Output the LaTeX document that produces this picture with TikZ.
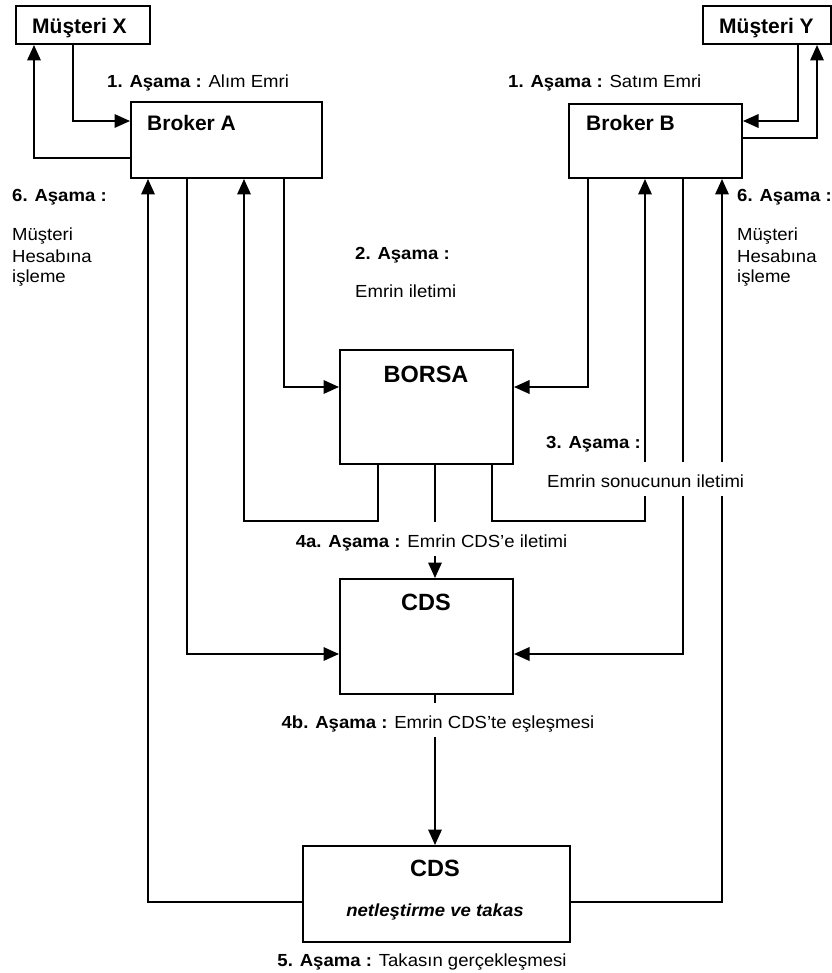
\documentclass[tikz,border=0pt]{standalone}
\usepackage{fontspec}
\setmainfont{Liberation Sans}
\newfontfamily\lblfont{Liberation Sans}[FakeStretch=1.06]
\usetikzlibrary{arrows.meta}

\begin{document}
\begin{tikzpicture}[x=1pt,y=-1pt,
  box/.style={draw,line width=2pt,inner sep=0pt,anchor=north west},
  conn/.style={line width=1.8pt,-{Triangle[length=15.5pt,width=13.5pt]}},
  title/.style={font=\bfseries\fontsize{21}{25}\selectfont,inner sep=0pt,anchor=base west},
  bigtitle/.style={font=\bfseries\fontsize{23.5}{28}\selectfont,inner sep=0pt,anchor=base},
  lbl/.style={font=\lblfont\fontsize{17.5}{21}\selectfont,inner sep=0pt,anchor=base west},
  gaplbl/.style={lbl,fill=white,inner xsep=1pt,inner ysep=0pt,text height=25pt,text depth=9pt}
]
\useasboundingbox (0,0) rectangle (831,973);

% boxes
\node[box,minimum width=134pt,minimum height=38pt] (mx) at (15,5) {};
\node[title] (mxT) at (32,34) {Müşteri X};
\node[box,minimum width=128pt,minimum height=38pt] (my) at (702,5) {};
\node[title] (myT) at (719,34) {Müşteri Y};
\node[box,minimum width=191pt,minimum height=76pt] (ba) at (130,101) {};
\node[title] (baT) at (147,131) {Broker A};
\node[box,minimum width=173pt,minimum height=74pt] (bb) at (568,103) {};
\node[title] (bbT) at (586,131) {Broker B};
\node[box,minimum width=173pt,minimum height=114pt] (borsa) at (339,349) {};
\node[bigtitle] (borsaT) at (426,382) {BORSA};
\node[box,minimum width=173pt,minimum height=115pt] (cds1) at (339,578) {};
\node[bigtitle] (cds1T) at (426,610) {CDS};
\node[box,minimum width=267pt,minimum height=96pt] (cds2) at (302,845) {};
\node[bigtitle] (cds2T) at (435,876) {CDS};
\node[lbl,anchor=base,font=\lblfont\bfseries\itshape\fontsize{17.5}{21}\selectfont] (cds2S) at (435,916) {netleştirme ve takas};

% stage 1: customer orders and stage 6 back to customers
\draw[conn] (mx.south -| 73,0) |- (ba.west |- 0,121);
\draw[conn] (ba.west |- 0,158) -| (mx.south -| 34,0);
\draw[conn] (my.south -| 798,0) |- (bb.east |- 0,121);
\draw[conn] (bb.east |- 0,138) -| (my.south -| 817,0);

% stage 2: orders to the exchange
\draw[conn] (ba.south -| 284,0) |- (borsa.west |- 0,387);
\draw[conn] (bb.south -| 588,0) |- (borsa.east |- 0,387);

% stage 4a: exchange to CDS
\draw[conn] (borsa.south -| 435,0) -- (cds1.north -| 435,0);
\node[gaplbl,anchor=base] (s4a) at (431.5,547) {\textbf{4a. Aşama :} Emrin CDS’e iletimi};

% stage 3: results back to brokers
\draw[conn] (borsa.south -| 378,0) -- (378,521) -| (ba.south -| 244,0);
\draw[conn] (borsa.south -| 492,0) -- (492,521) -| (bb.south -| 645,0);

% brokers to CDS
\draw[conn] (ba.south -| 187,0) |- (cds1.west |- 0,654);
\draw[conn] (bb.south -| 683,0) |- (cds1.east |- 0,654);

% stage 5/6: settlement back to brokers
\draw[conn] (cds2.west |- 0,902) -| (ba.south -| 148,0);
\draw[conn] (cds2.east |- 0,902) -| (bb.south -| 722,0);

% stage 4b: matching
\draw[conn] (cds1.south -| 435,0) -- (cds2.north -| 435,0);
\node[gaplbl,anchor=base] (s4b) at (438,728) {\textbf{4b. Aşama :} Emrin CDS’te eşleşmesi};

% stage labels
\node[lbl] (s1a) at (107,88) {\textbf{1. Aşama :} Alım Emri};
\node[lbl] (s1b) at (508,88) {\textbf{1. Aşama :} Satım Emri};

\node[lbl] (s6a) at (12,202) {\textbf{6. Aşama :}};
\node[lbl] (s6a1) at (12,241) {Müşteri};
\node[lbl] (s6a2) at (12,262) {Hesabına};
\node[lbl] (s6a3) at (12,283) {işleme};

\node[lbl] (s6b) at (737,202) {\textbf{6. Aşama :}};
\node[lbl] (s6b1) at (737,241) {Müşteri};
\node[lbl] (s6b2) at (737,262) {Hesabına};
\node[lbl] (s6b3) at (737,283) {işleme};

\node[lbl] (s2) at (355,260) {\textbf{2. Aşama :}};
\node[lbl] (s2t) at (355,297) {Emrin iletimi};

\node[lbl] (s3) at (546,448) {\textbf{3. Aşama :}};
\node[gaplbl] (s3t) at (546,487) {Emrin sonucunun iletimi};

\node[lbl,anchor=base] (s5) at (422,966) {\textbf{5. Aşama :} Takasın gerçekleşmesi};
\end{tikzpicture}
\end{document}
